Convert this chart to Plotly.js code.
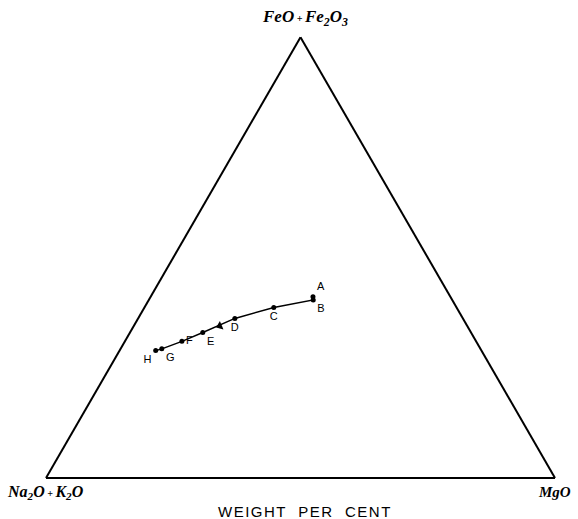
<!DOCTYPE html>
<html>
<head>
<meta charset="utf-8">
<script src="https://cdn.plot.ly/plotly-3.0.1.min.js"></script>
<style>html,body{margin:0;padding:0;background:#fff;}#chart{width:578px;height:519px;}</style>
</head>
<body>
<div id="chart"></div>
<script>
// Sample labels and ternary compositions (weight fractions)
var labels = ["H", "G", "F", "E", "D", "C", "B", "A"];
var feo   = [0.289, 0.293, 0.310, 0.330, 0.362, 0.387, 0.404, 0.411]; // FeO + Fe2O3 (apex a)
var alk   = [0.640, 0.626, 0.578, 0.527, 0.448, 0.359, 0.273, 0.270]; // Na2O + K2O (b)
var mgo   = [0.071, 0.081, 0.112, 0.143, 0.190, 0.254, 0.323, 0.319]; // MgO (c)
var labelPos = ["bottom left", "bottom right", "middle right", "bottom right", "bottom center", "bottom center", "bottom right", "top right"];

// Arrow marking trend direction (between D and E)
var arrowFeo = [0.345], arrowAlk = [0.486], arrowMgo = [0.169];

var traces = [
  {
    type: "scatterternary",
    mode: "lines+markers+text",
    a: feo, b: alk, c: mgo,
    text: labels,
    textposition: labelPos,
    textfont: {family: "Liberation Sans, Arial, sans-serif", size: 11, color: "#000"},
    line: {color: "#000", width: 1.5},
    marker: {color: "#000", size: 5},
    hoverinfo: "text",
    cliponaxis: false
  },
  {
    type: "scatterternary",
    mode: "markers",
    a: arrowFeo, b: arrowAlk, c: arrowMgo,
    marker: {symbol: "triangle-left", color: "#000", size: 8, angle: -23},
    hoverinfo: "skip"
  }
];

var axisStyle = {
  showline: true, linecolor: "#000", linewidth: 2,
  showgrid: false, showticklabels: false, ticks: "",
  title: {text: ""}
};

var serif = {family: "Liberation Serif, Times New Roman, serif", size: 16, color: "#000"};

var layout = {
  width: 578, height: 519,
  margin: {l: 0, r: 0, t: 0, b: 0},
  paper_bgcolor: "#fff",
  showlegend: false,
  ternary: {
    sum: 1,
    domain: {x: [46/578, 555/578], y: [1 - 478/519, 1 - 37.2/519]},
    bgcolor: "#fff",
    aaxis: axisStyle,
    baxis: axisStyle,
    caxis: axisStyle
  },
  annotations: [
    {text: "<b><i>FeO<span style='font-size:10px'> + </span>Fe<sub>2</sub>O<sub>3</sub></i></b>",
     xref: "paper", yref: "paper", x: 305/578, y: 1 - 18/519, xanchor: "center", yanchor: "middle",
     showarrow: false, font: {family: serif.family, size: 17, color: "#000"}},
    {text: "<b><i>Na<sub>2</sub>O<span style='font-size:10px'> + </span>K<sub>2</sub>O</i></b>",
     xref: "paper", yref: "paper", x: 45.5/578, y: 1 - 492/519, xanchor: "center", yanchor: "middle",
     showarrow: false, font: serif},
    {text: "<b><i>MgO</i></b>",
     xref: "paper", yref: "paper", x: 554/578, y: 1 - 492/519, xanchor: "center", yanchor: "middle",
     showarrow: false, font: {family: serif.family, size: 15, color: "#000"}},
    {text: "<span style='letter-spacing:1.5px'>WEIGHT&nbsp;&nbsp;PER&nbsp;&nbsp;CENT</span>",
     xref: "paper", yref: "paper", x: 305/578, y: 1 - 511/519, xanchor: "center", yanchor: "middle",
     showarrow: false, font: {family: "Liberation Sans, Arial, sans-serif", size: 15, color: "#000"}}
  ]
};

Plotly.newPlot("chart", traces, layout, {displayModeBar: false, staticPlot: true});
</script>
</body>
</html>
